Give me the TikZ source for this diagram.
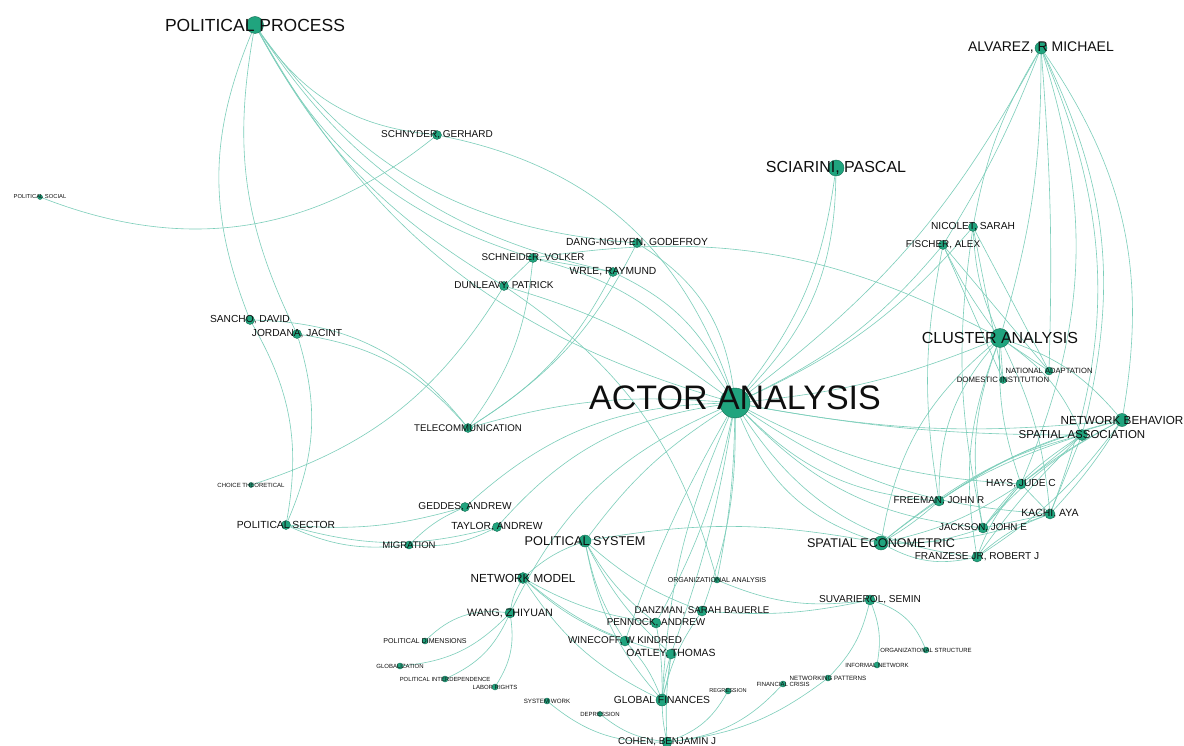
\documentclass[tikz,border=0pt]{standalone}
\usepackage{fontspec}
\setmainfont{Liberation Sans}
\usepackage{tikz}
\usetikzlibrary{backgrounds}

\definecolor{linkcol}{RGB}{124,206,186}
\definecolor{vertfill}{RGB}{32,164,126}
\definecolor{vertline}{RGB}{22,112,86}
\definecolor{labcol}{RGB}{15,15,15}

\begin{document}
\begin{tikzpicture}[x=1pt,y=-1pt,
vert/.style={circle,fill=vertfill,draw=vertline,line width=0.4pt,
inner sep=0pt,minimum size=#1pt},
lab/.style={font=\fontsize{#1}{#1}\selectfont,text=labcol,inner sep=0pt},
every edge/.style={draw=linkcol,line width=0.6pt}]

\useasboundingbox (0,0) rectangle (1184,746);

%keyword nodes
\node[vert=30, label={[lab=34,yshift=5pt]center:ACTOR ANALYSIS}] (aa) at (735,403) {};
\node[vert=17, label={[lab=17.5]center:POLITICAL PROCESS}] (pp) at (255,25) {};
\node[vert=19, label={[lab=16]center:CLUSTER ANALYSIS}] (cluster) at (1000,338) {};
\node[vert=14, label={[lab=12.6]center:SPATIAL ECONOMETRIC}] (speco) at (881,543) {};
\node[vert=13, label={[lab=11.7]center:NETWORK BEHAVIOR}] (netbeh) at (1122,420) {};
\node[vert=11, label={[lab=11.5]center:SPATIAL ASSOCIATION}] (spassoc) at (1082,435) {};
\node[vert=12, label={[lab=12.7]center:POLITICAL SYSTEM}] (polsys) at (585,541) {};
\node[vert=11, label={[lab=11.7]center:NETWORK MODEL}] (netmod) at (523,578) {};
\node[vert=12, label={[lab=10.3]center:GLOBAL FINANCES}] (glofin) at (662,700) {};
\node[vert=9, label={[lab=9.7]center:TELECOMMUNICATION}] (telecom) at (468,428) {};
\node[vert=9, label={[lab=10.3]center:POLITICAL SECTOR}] (polsector) at (286,525) {};
\node[vert=8, label={[lab=9.5]center:MIGRATION}] (migration) at (409,545) {};
\node[vert=8, label={[lab=7.6]center:NATIONAL ADAPTATION}] (natadapt) at (1049,371) {};
\node[vert=7, label={[lab=7.8]center:DOMESTIC INSTITUTION}] (domestic) at (1003,380) {};
\node[vert=5, label={[lab=5.8]center:POLITICAL SOCIAL}] (polsocial) at (40,197) {};
\node[vert=5, label={[lab=6]center:CHOICE THEORETICAL}] (choice) at (251,485) {};
\node[vert=6, label={[lab=7.1]center:ORGANIZATIONAL ANALYSIS}] (organa) at (717,580) {};
\node[vert=6, label={[lab=6]center:ORGANIZATIONAL STRUCTURE}] (orgstruct) at (926,650) {};
\node[vert=6, label={[lab=6]center:INFORMAL NETWORK}] (informal) at (877,665) {};
\node[vert=6, label={[lab=6.2]center:NETWORKING PATTERNS}] (netpatt) at (828,678) {};
\node[vert=6, label={[lab=6]center:FINANCIAL CRISIS}] (fincrisis) at (783,684) {};
\node[vert=6, label={[lab=5.6]center:REGRESSION}] (regression) at (728,691) {};
\node[vert=6, label={[lab=6.2]center:SYSTEM WORK}] (syswork) at (547,701) {};
\node[vert=5, label={[lab=6]center:DEPRESSION}] (depression) at (600,714) {};
\node[vert=6, label={[lab=7.1]center:POLITICAL DIMENSIONS}] (poldim) at (425,641) {};
\node[vert=6, label={[lab=6]center:GLOBALIZATION}] (globalization) at (400,666) {};
\node[vert=6, label={[lab=5.9]center:POLITICAL INTERDEPENDENCE}] (polinter) at (445,679) {};
\node[vert=6, label={[lab=6]center:LABOR RIGHTS}] (labor) at (495,687) {};

%author nodes
\node[vert=16, label={[lab=16]center:{SCIARINI, PASCAL}}] (sciarini) at (836,168) {};
\node[vert=12, label={[lab=14]center:{ALVAREZ, R MICHAEL}}] (alvarez) at (1041,48) {};
\node[vert=9, label={[lab=10]center:{SCHNYDER, GERHARD}}] (schnyder) at (437,135) {};
\node[vert=9, label={[lab=10.3]center:{DANG-NGUYEN, GODEFROY}}] (dang) at (637,243) {};
\node[vert=9, label={[lab=9.8]center:{SCHNEIDER, VOLKER}}] (schneider) at (533,258) {};
\node[vert=9, label={[lab=10.3]center:{WRLE, RAYMUND}}] (wrle) at (613,272) {};
\node[vert=9, label={[lab=10]center:{DUNLEAVY, PATRICK}}] (dunleavy) at (504,286) {};
\node[vert=9, label={[lab=10.2]center:{SANCHO, DAVID}}] (sancho) at (250,320) {};
\node[vert=9, label={[lab=10.2]center:{JORDANA, JACINT}}] (jordana) at (297,334) {};
\node[vert=9, label={[lab=10.2]center:{NICOLET, SARAH}}] (nicolet) at (973,227) {};
\node[vert=9, label={[lab=9.9]center:{FISCHER, ALEX}}] (fischer) at (943,245) {};
\node[vert=10, label={[lab=10.2]center:{HAYS, JUDE C}}] (hays) at (1021,484) {};
\node[vert=10, label={[lab=9.9]center:{FREEMAN, JOHN R}}] (freeman) at (939,501) {};
\node[vert=10, label={[lab=10.5]center:{KACHI, AYA}}] (kachi) at (1050,514) {};
\node[vert=10, label={[lab=9.8]center:{JACKSON, JOHN E}}] (jackson) at (983,528) {};
\node[vert=10, label={[lab=10.1]center:{FRANZESE JR, ROBERT J}}] (franzese) at (977,557) {};
\node[vert=9, label={[lab=10.1]center:{GEDDES, ANDREW}}] (geddes) at (465,507) {};
\node[vert=9, label={[lab=10.3]center:{TAYLOR, ANDREW}}] (taylor) at (497,527) {};
\node[vert=10, label={[lab=10.7]center:{WANG, ZHIYUAN}}] (wang) at (510,613) {};
\node[vert=10, label={[lab=9.7]center:{DANZMAN, SARAH BAUERLE}}] (danzman) at (702,611) {};
\node[vert=10, label={[lab=9.9]center:{PENNOCK, ANDREW}}] (pennock) at (656,623) {};
\node[vert=10, label={[lab=9.9]center:{WINECOFF, W KINDRED}}] (winecoff) at (625,641) {};
\node[vert=10, label={[lab=10.4]center:{OATLEY, THOMAS}}] (oatley) at (671,654) {};
\node[vert=10, label={[lab=10.1]center:{SUVARIEROL, SEMIN}}] (suvarierol) at (870,600) {};
\node[vert=10, label={[lab=9.8]center:{COHEN, BENJAMIN J}}] (cohen) at (667,742) {};

\begin{scope}[on background layer]
\fill[white] (0,0) rectangle (1184,746);
%links of the left part
\path (pp) edge[bend right=22] (sancho)
  edge[bend right=18] (jordana)
  edge[bend right=25] (schnyder)
  edge[bend right=22] (schneider)
  edge[bend right=15] (dunleavy)
  edge[bend right=22] (wrle)
  edge[bend right=25] (dang)
  edge[bend right=22] (aa);
\path (schnyder) edge[bend left=30] (polsocial)
  edge[bend left=30] (aa);
\path (sancho) edge[bend left=25] (telecom)
  edge[bend left=20] (polsector);
\path (jordana) edge[bend left=20] (telecom)
  edge[bend left=20] (polsector);
\path (polsector) edge[bend right=15] (migration)
  edge[bend right=15] (taylor)
  edge[bend right=10] (geddes);
\path (migration) edge[bend right=15] (taylor)
  edge[bend left=10] (geddes);
\path (dunleavy) edge[bend left=20] (choice)
  edge[bend left=20] (organa)
  edge[bend left=10] (aa);
\path (telecom) edge[bend right=15] (schneider)
  edge[bend right=15] (wrle)
  edge[bend right=15] (dang)
  edge[bend left=10] (aa);
\path (schneider) edge (dunleavy)
  edge (wrle)
  edge[bend left=20] (aa)
  edge[bend left=18] (cluster);
\path (wrle) edge[bend left=20] (aa);
\path (dang) edge[bend left=25] (aa);

%links of actor analysis
\path (aa) edge[bend right=15] (sciarini)
  edge[bend right=22] (sciarini)
  edge[bend right=12] (fischer)
  edge[bend right=12] (nicolet)
  edge[bend right=8] (cluster)
  edge[bend right=12] (alvarez)
  edge[bend right=25] (speco)
  edge[bend right=20] (freeman)
  edge[bend right=20] (jackson)
  edge[bend right=25] (franzese)
  edge[bend right=12] (hays)
  edge[bend right=15] (kachi)
  edge[bend right=5] (spassoc)
  edge[bend right=8] (netbeh)
  edge[bend left=10] (danzman)
  edge[bend left=8] (pennock)
  edge[bend left=5] (oatley)
  edge[bend right=5] (winecoff)
  edge[bend right=10] (glofin)
  edge[bend left=5] (organa)
  edge[bend right=10] (polsys)
  edge[bend right=20] (geddes)
  edge[bend right=20] (taylor)
  edge[bend right=20] (wang);

%links of the lower part
\path (polsys) edge[bend right=10] (netmod)
  edge[bend right=10] (pennock)
  edge[bend right=10] (winecoff)
  edge[bend right=10] (oatley)
  edge[bend right=10] (danzman)
  edge[bend right=15] (glofin)
  edge[bend left=10] (speco);
\path (netmod) edge[bend right=10] (wang)
  edge[bend right=10] (pennock)
  edge[bend right=10] (winecoff)
  edge[bend right=12] (oatley)
  edge[bend right=15] (glofin);
\path (wang) edge[bend right=25] (poldim)
  edge[bend left=20] (globalization)
  edge[bend left=20] (polinter)
  edge[bend left=20] (labor);
\path (glofin) edge[bend right=5] (oatley)
  edge[bend left=5] (oatley)
  edge[bend left=10] (danzman)
  edge[bend right=5] (pennock)
  edge[bend right=10] (winecoff);
\path (cohen) edge[bend right=20] (regression)
  edge[bend right=20] (fincrisis)
  edge[bend right=15] (netpatt)
  edge[bend left=15] (depression)
  edge[bend left=20] (syswork)
  edge[bend left=5] (glofin)
  edge[bend left=5] (oatley);
\path (organa) edge[bend right=15] (suvarierol);
\path (danzman) edge[bend right=8] (suvarierol);
\path (suvarierol) edge[bend left=25] (orgstruct)
  edge[bend left=15] (informal)
  edge[bend left=15] (netpatt);

%links of the right part
\path (alvarez) edge[bend right=10] (nicolet)
  edge[bend left=5] (fischer)
  edge[bend left=8] (cluster)
  edge[bend left=3] (natadapt)
  edge[bend left=22] (netbeh)
  edge[bend left=20] (spassoc)
  edge[bend left=20] (hays)
  edge[bend left=22] (kachi);
\path (nicolet) edge[bend right=10] (cluster)
  edge (domestic)
  edge (natadapt)
  edge[bend right=10] (jackson);
\path (fischer) edge[bend right=5] (cluster)
  edge (domestic)
  edge (natadapt)
  edge[bend right=10] (freeman);
\path (cluster) edge (domestic)
  edge (natadapt)
  edge[bend right=20] (speco)
  edge[bend right=20] (freeman)
  edge[bend right=15] (jackson)
  edge[bend right=15] (franzese)
  edge[bend right=10] (hays)
  edge[bend left=10] (kachi)
  edge[bend left=15] (spassoc)
  edge[bend left=15] (netbeh);
\path (spassoc) edge[bend right=10] (speco)
  edge[bend right=10] (freeman)
  edge[bend right=10] (jackson)
  edge[bend right=5] (franzese)
  edge (hays)
  edge (kachi);
\path (netbeh) edge[bend right=12] (speco)
  edge[bend right=10] (freeman)
  edge[bend right=10] (jackson)
  edge[bend left=10] (franzese)
  edge[bend right=5] (hays)
  edge[bend left=5] (kachi);
\path (speco) edge[bend right=5] (freeman)
  edge[bend right=10] (jackson)
  edge[bend right=20] (franzese)
  edge[bend right=10] (hays)
  edge[bend right=10] (kachi);
\path (jackson) edge (kachi)
  edge (hays);
\path (franzese) edge[bend left=10] (kachi)
  edge[bend left=10] (hays);
\path (hays) edge (kachi);
\end{scope}

\end{tikzpicture}
\end{document}
